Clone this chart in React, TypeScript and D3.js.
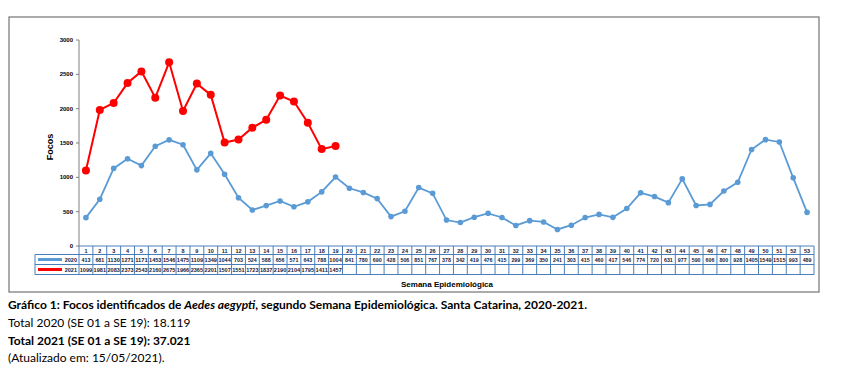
import React from "react";
import * as d3 from "d3";

const weeks = d3.range(1, 54).map(String);
const focos2020 = [413, 681, 1130, 1271, 1171, 1453, 1546, 1475, 1109, 1349, 1044, 703, 524, 588, 656, 571, 643, 788, 1004, 841, 780, 690, 428, 506, 851, 767, 378, 342, 419, 476, 415, 299, 369, 350, 241, 303, 415, 460, 417, 546, 774, 720, 631, 977, 590, 606, 800, 928, 1405, 1549, 1515, 993, 489];
const focos2021 = [1099, 1981, 2083, 2373, 2543, 2160, 2675, 1966, 2365, 2201, 1507, 1551, 1723, 1837, 2190, 2104, 1795, 1411, 1457];
const yTicks = [0, 500, 1000, 1500, 2000, 2500, 3000];

const BLUE = "#5b9bd5";
const RED = "#ff0000";
const GRID = "#4a7ebb";

export default function App() {
  const x0 = 79, x1 = 814;
  const yTop = 40, yBot = 246;
  const x = d3.scaleBand<string>().domain(weeks).range([x0, x1]).paddingInner(0).paddingOuter(0);
  const y = d3.scaleLinear().domain([0, 3000]).range([yBot, yTop]);
  const cx = (i: number) => (x(weeks[i]) as number) + x.bandwidth() / 2;
  const line = d3.line<number>().x((_, i) => cx(i)).y((d) => y(d));

  const rowTops = [246, 254.5, 264.5, 274.5];
  const labelX0 = 35;
  const font = "'Liberation Sans', Arial, sans-serif";
  const capFont = "Lato, 'Open Sans', sans-serif";

  const series = [
    { name: "2020", data: focos2020, color: BLUE },
    { name: "2021", data: focos2021, color: RED },
  ];

  return (
    <svg width={844} height={376} style={{ position: "absolute", left: 0, top: 0, background: "#fff" }} xmlns="http://www.w3.org/2000/svg">
      <rect x={0} y={0} width={844} height={376} fill="#fff" />
      <rect x={9} y={17} width={810} height={275} fill="none" stroke="#7f7f7f" strokeWidth={1.3} />

      {/* y axis */}
      <line x1={x0} x2={x0} y1={yTop} y2={yBot} stroke="#808080" strokeWidth={1} />
      {yTicks.map((t) => (
        <g key={t}>
          <line x1={x0 - 3} x2={x0} y1={y(t)} y2={y(t)} stroke="#808080" strokeWidth={1} />
          <text x={x0 - 6} y={y(t) + 2} fontSize={6} fontFamily={font} fontWeight="bold" textAnchor="end" fill="#000">{t}</text>
        </g>
      ))}
      <text transform={`translate(53,147) rotate(-90)`} fontSize={9} fontFamily={font} fontWeight="bold" textAnchor="middle" fill="#000">Focos</text>

      {/* lines */}
      {series.map((s) => (
        <g key={s.name}>
          <path d={line(s.data) || ""} fill="none" stroke={s.color} strokeWidth={s.name === "2021" ? 2 : 1.8} />
          {s.data.map((v, i) => (
            <circle key={i} cx={cx(i)} cy={y(v)} r={s.name === "2021" ? 4 : 2.8} fill={s.color} />
          ))}
        </g>
      ))}

      {/* table */}
      <g stroke={GRID} strokeWidth={1} fill="none">
        <line x1={x0} x2={x1} y1={rowTops[0]} y2={rowTops[0]} />
        <line x1={labelX0} x2={x1} y1={rowTops[1]} y2={rowTops[1]} />
        <line x1={labelX0} x2={x1} y1={rowTops[2]} y2={rowTops[2]} />
        <line x1={labelX0} x2={x1} y1={rowTops[3]} y2={rowTops[3]} />
        <line x1={labelX0} x2={labelX0} y1={rowTops[1]} y2={rowTops[3]} />
        {weeks.map((w) => (
          <line key={w} x1={x(w) as number} x2={x(w) as number} y1={rowTops[0]} y2={rowTops[3]} />
        ))}
        <line x1={x1} x2={x1} y1={rowTops[0]} y2={rowTops[3]} />
      </g>
      {weeks.map((w) => (
        <text key={w} x={(x(w) as number) + x.bandwidth() / 2} y={rowTops[0] + 6.5} fontSize={5.5} fontFamily={font} fontWeight="bold" textAnchor="middle" fill="#1a1a3a">{w}</text>
      ))}
      {series.map((s, si) => (
        <g key={s.name}>
          <line x1={labelX0 + 3} x2={labelX0 + 27} y1={(rowTops[si + 1] + rowTops[si + 2]) / 2} y2={(rowTops[si + 1] + rowTops[si + 2]) / 2} stroke={s.color} strokeWidth={3} />
          {s.name === "2020" && (
            <circle cx={labelX0 + 15} cy={(rowTops[si + 1] + rowTops[si + 2]) / 2} r={1.5} fill={s.color} />
          )}
          <text x={x0 - 2} y={rowTops[si + 1] + 7} fontSize={5.5} fontFamily={font} fontWeight="bold" textAnchor="end" fill="#1a1a3a">{s.name}</text>
          {s.data.map((v, i) => (
            <text key={i} x={cx(i)} y={rowTops[si + 1] + 7} fontSize={5.3} fontFamily={font} fontWeight="bold" textAnchor="middle" fill="#1a1a3a" textLength={String(v).length >= 4 ? 12.4 : undefined} lengthAdjust="spacingAndGlyphs">{v}</text>
          ))}
        </g>
      ))}
      <text x={447} y={287} fontSize={8} fontFamily={font} fontWeight="bold" textAnchor="middle" fill="#000">Semana Epidemiológica</text>

      {/* caption */}
      <text x={8} y={309} fontSize={12} fontFamily={capFont} fontWeight="bold" fill="#000">
        Gráfico 1: Focos identificados de <tspan fontStyle="italic">Aedes aegypti</tspan>, segundo Semana Epidemiológica. Santa Catarina, 2020-2021.
      </text>
      <text x={8} y={327} fontSize={12} fontFamily={capFont} fill="#000">Total 2020 (SE 01 a SE 19): 18.119</text>
      <text x={8} y={345} fontSize={12} fontFamily={capFont} fontWeight="bold" fill="#000">Total 2021 (SE 01 a SE 19): 37.021</text>
      <text x={8} y={362} fontSize={12} fontFamily={capFont} fill="#000">(Atualizado em: 15/05/2021).</text>
    </svg>
  );
}
